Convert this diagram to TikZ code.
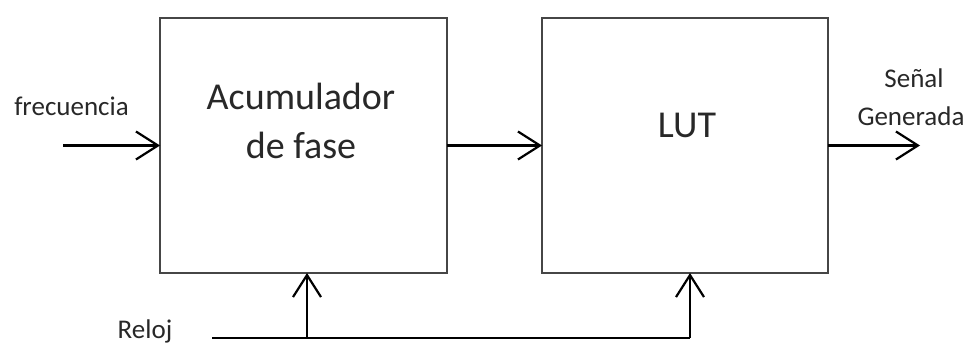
\documentclass[tikz,border=0pt]{standalone}
\usepackage{fontspec}
\setmainfont{Carlito}
\usetikzlibrary{arrows.meta}
\definecolor{boxline}{RGB}{70,70,70}
\definecolor{inktext}{RGB}{40,40,40}
\tikzset{
  block/.style={draw=boxline, line width=2.4pt, rectangle, inner sep=0pt, outer sep=0pt},
  bigtext/.style={font=\fontsize{38}{46}\selectfont, text=inktext, inner sep=0pt, anchor=base},
  smalltext/.style={font=\fontsize{27}{33}\selectfont, text=inktext, inner sep=0pt, anchor=base},
  sig/.style={draw=black, line width=2.2pt, -{Straight Barb[length=22pt, width=28pt, line width=2.2pt]}},
  wire/.style={draw=black, line width=2.2pt}
}
\begin{document}
\begin{tikzpicture}[x=1pt, y=-1pt]
  \useasboundingbox (0,0) rectangle (969,345);

  % the two processing blocks
  \node[block, minimum width=287pt, minimum height=255pt] (acc) at (303.5,145.5) {};
  \node[block, minimum width=286pt, minimum height=255pt] (lut) at (685,145.5) {};

  % block titles
  \node[bigtext] (acc1) at (301,110) {Acumulador};
  \node[bigtext] (acc2) at (301,158) {de fase};
  \node[bigtext] (luttxt) at (687,137) {LUT};

  % signal labels
  \node[smalltext] (freq) at (71.5,115) {frecuencia};
  \node[smalltext] (out1) at (914,88) {Señal};
  \node[smalltext] (out2) at (911,125) {Generada};
  \node[smalltext] (clk) at (145,338) {Reloj};

  % loose ends of the signal lines
  \coordinate (fin) at (63,145.5);
  \coordinate (fout) at (920,145.5);
  \coordinate (clkstart) at (212,338);
  \coordinate (clkbranch) at (307,338);
  \coordinate (clkcorner) at (690,338);

  % data path
  \draw[sig] (fin) -- (acc.west);
  \draw[sig] (acc.east) -- (lut.west);
  \draw[sig] (lut.east) -- (fout);

  % clock distribution
  \draw[wire] (clkstart) -- (clkcorner);
  \draw[sig] (clkcorner) -- (clkcorner |- lut.south);
  \draw[sig] (clkbranch) -- (clkbranch |- acc.south);
\end{tikzpicture}
\end{document}
